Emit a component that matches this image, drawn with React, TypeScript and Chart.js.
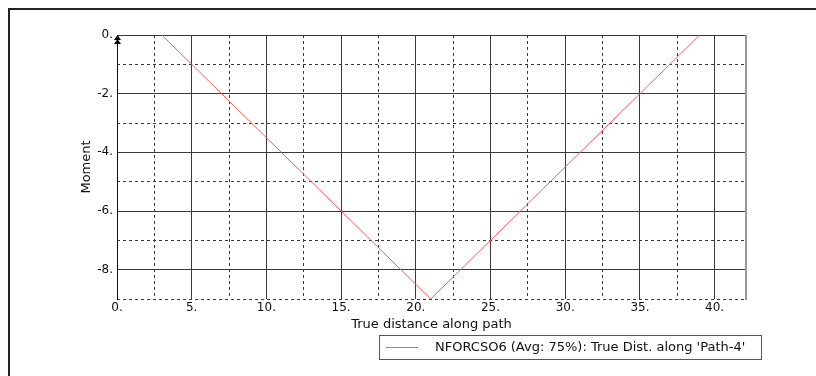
import React, { useEffect, useRef } from "react";
import { Chart, registerables } from "chart.js";

Chart.register(...registerables);

const pathX = [3, 21, 39];
const momentY = [0, -9, 0];
const seriesLabel = "NFORCSO6 (Avg: 75%): True Dist. along 'Path-4'";
const xTitle = "True distance along path";
const yTitle = "Moment";
const xMin = 0;
const xMax = 42.1;
const yMin = -9;
const yMax = 0;

const FONT = "'DejaVu Sans', Verdana, sans-serif";
const GRID = "#3a3a3a";
const RED = "#ff5a5a";

const framePlugin = {
  id: "frame",
  beforeDraw(chart: any) {
    const ctx = chart.ctx;
    ctx.save();
    ctx.fillStyle = "#fff";
    ctx.fillRect(0, 0, chart.width, chart.height);
    ctx.fillStyle = "#222";
    ctx.fillRect(8, 8, chart.width - 8, 2);
    ctx.fillRect(8, 8, 2, chart.height - 8);
    ctx.restore();
  },
  afterDraw(chart: any) {
    const ctx = chart.ctx;
    const { left, top, right, bottom } = chart.chartArea;
    ctx.save();
    ctx.fillStyle = "#999";
    ctx.fillRect(right - 1, top, 2, bottom - top + 1);
    ctx.fillStyle = "#000";
    for (const dy of [0, 4]) {
      ctx.beginPath();
      ctx.moveTo(left + 0.5, top + dy);
      ctx.lineTo(left - 3, top + dy + 5);
      ctx.lineTo(left + 4, top + dy + 5);
      ctx.closePath();
      ctx.fill();
    }
    const ds = chart.data.datasets[0];
    const bx = 379.5, by = 335.5, bw = 382, bh = 24;
    ctx.strokeStyle = "#555";
    ctx.lineWidth = 1;
    ctx.strokeRect(bx, by, bw, bh);
    ctx.fillStyle = ds.borderColor;
    ctx.fillRect(386, 347, 32, 1);
    ctx.fillStyle = "#111";
    ctx.font = `13px ${FONT}`;
    ctx.textBaseline = "middle";
    ctx.textAlign = "left";
    ctx.fillText(ds.label, 435, 348);
    ctx.restore();
  },
};

export default function App() {
  const ref = useRef<HTMLCanvasElement | null>(null);
  useEffect(() => {
    if (!ref.current) return;
    const data = pathX.map((x, i) => ({ x, y: momentY[i] }));
    const chart = new Chart(ref.current, {
      type: "line",
      data: {
        datasets: [
          {
            label: seriesLabel,
            data,
            borderColor: RED,
            borderWidth: 1,
            pointRadius: 0,
            tension: 0,
          },
        ],
      },
      options: {
        animation: false,
        responsive: false,
        layout: { padding: { left: 0, top: 35, right: 70, bottom: 44 } },
        plugins: { legend: { display: false }, tooltip: { enabled: false } },
        scales: {
          x: {
            type: "linear",
            position: "bottom",
            min: xMin,
            max: xMax,
            afterFit: (s: any) => { s.height = 33; },
            ticks: {
              stepSize: 5,
              includeBounds: false,
              autoSkip: false,
              maxRotation: 0,
              padding: 2,
              color: "#111",
              font: { family: FONT, size: 12 },
              callback: (v: any) => (Number(v) % 5 === 0 ? `${v}.` : ""),
            },
            grid: {
              drawTicks: false,
              color: (c: any) => (c.tick && Number(c.tick.value) % 5 === 0 ? GRID : "transparent"),
            },
            border: { display: false },
            title: {
              display: true,
              text: xTitle,
              color: "#111",
              font: { family: FONT, size: 13 },
              padding: { top: 0, bottom: 0 },
            },
          },
          xMinor: {
            type: "linear",
            position: "bottom",
            min: xMin,
            max: xMax,
            afterFit: (s: any) => { s.height = 0; },
            ticks: { display: false, stepSize: 2.5, includeBounds: false, autoSkip: false },
            grid: {
              drawTicks: false,
              color: (c: any) => (c.tick && Math.abs(Number(c.tick.value) % 5) > 0.01 ? GRID : "transparent"),
            },
            border: { display: false, dash: [3, 3] },
          },
          y: {
            type: "linear",
            position: "left",
            min: yMin,
            max: yMax,
            afterFit: (s: any) => { s.width = 117; },
            ticks: {
              stepSize: 2,
              includeBounds: false,
              autoSkip: false,
              padding: 4,
              color: "#111",
              font: { family: FONT, size: 12 },
              callback: (v: any) => (Number(v) % 2 === 0 ? `${v}.` : ""),
            },
            grid: {
              drawTicks: false,
              color: (c: any) => (c.tick && Number(c.tick.value) % 2 === 0 ? GRID : "transparent"),
            },
            border: { display: true, color: "#111", width: 1 },
            title: {
              display: true,
              text: yTitle,
              color: "#111",
              font: { family: FONT, size: 13 },
              padding: { top: 79, bottom: 0 },
            },
          },
          yMinor: {
            type: "linear",
            position: "left",
            min: yMin,
            max: yMax,
            afterFit: (s: any) => { s.width = 0; },
            ticks: { display: false, stepSize: 1, includeBounds: false, autoSkip: false },
            grid: {
              drawTicks: false,
              color: (c: any) => (c.tick && Math.abs(Number(c.tick.value) % 2) === 1 ? GRID : "transparent"),
            },
            border: { display: false, dash: [3, 3] },
          },
        },
      },
      plugins: [framePlugin],
    });
    return () => chart.destroy();
  }, []);
  return (
    <div style={{ position: "fixed", left: 0, top: 0, width: 816, height: 376, background: "#fff" }}>
      <canvas ref={ref} width={816} height={376} style={{ display: "block", width: 816, height: 376 }} />
    </div>
  );
}
